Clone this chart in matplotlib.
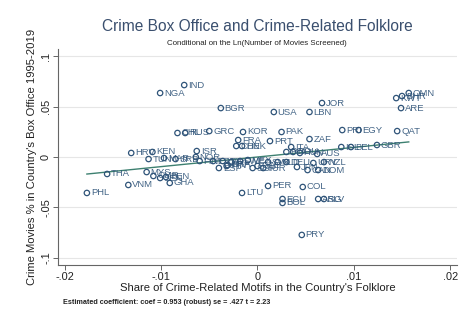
import matplotlib
matplotlib.use("Agg")
import matplotlib.pyplot as plt
import numpy as np

plt.rcParams['font.family'] = ['Liberation Sans', 'DejaVu Sans']

# Residualised share of crime motifs (x) and crime box-office share (y), by country
countries = ["IND", "NGA", "BGR", "USA", "JOR", "LBN", "KWT", "BHR", "OMN", "ARE",
             "PRI", "EGY", "QAT", "GBR", "ISL", "BEL", "PHL", "THA", "VNM", "GHA",
             "MYS", "CMR", "SEN", "BEN", "HRV", "KEN", "TUN", "MAR", "SRB", "CHL",
             "RUS", "GRC", "KOR", "PAK", "ISR", "NOR", "FIN", "FRA", "DNK", "CHE",
             "PRT", "ZAF", "ITA", "POL", "ROU", "HUN", "AUS", "SVK", "NLD", "DEU",
             "URY", "NZL", "JPN", "CAN", "DOM", "CZE", "SGP", "TUR", "ESP", "BRA",
             "PER", "COL", "LTU", "ECU", "BOL", "PRY", "ARG", "SLV", "EST", "LVA",
             "IRL", "SWE", "MEX", "IRN"]
motif_share = [-0.0076, -0.0101, -0.0038, 0.0017, 0.0067, 0.0054, 0.0144, 0.0150, 0.0157, 0.0149,
               0.0088, 0.0105, 0.0145, 0.0124, 0.0087, 0.0097, -0.0177, -0.0156, -0.0134, -0.0091,
               -0.0115, -0.0108, -0.0101, -0.0095, -0.0131, -0.0109, -0.0113, -0.0097, -0.0085, -0.0083,
               -0.0075, -0.0050, -0.0015, 0.0025, -0.0063, -0.0064, -0.0060, -0.0020, -0.0016, -0.0022,
               0.0013, 0.0054, 0.0035, 0.0030, 0.0037, 0.0044, 0.0062, 0.0011, 0.0021, 0.0030,
               0.0058, 0.0069, 0.0041, 0.0052, 0.0063, 0.0000, -0.0005, 0.0006, -0.0040, -0.0031,
               0.0011, 0.0047, -0.0016, 0.0026, 0.0026, 0.0046, 0.0063, 0.0069, -0.0046, -0.0036,
               -0.0027, -0.0018, -0.0010, -0.0032]
crime_box = [0.0713, 0.0634, 0.0485, 0.0446, 0.0535, 0.0446, 0.0584, 0.0604, 0.0634, 0.0485,
             0.0267, 0.0267, 0.0257, 0.0119, 0.0099, 0.0099, -0.0356, -0.0168, -0.0277, -0.0257,
             -0.0149, -0.0188, -0.0208, -0.0198, 0.0040, 0.0050, -0.0020, -0.0010, -0.0020, 0.0238,
             0.0238, 0.0257, 0.0248, 0.0248, 0.0059, 0.0000, -0.0040, 0.0168, 0.0109, 0.0109,
             0.0158, 0.0178, 0.0099, 0.0050, 0.0050, 0.0040, 0.0030, -0.0050, -0.0050, -0.0050,
             -0.0059, -0.0050, -0.0099, -0.0129, -0.0129, -0.0089, -0.0109, -0.0109, -0.0109, -0.0079,
             -0.0287, -0.0297, -0.0356, -0.0416, -0.0455, -0.0772, -0.0416, -0.0416, -0.0040, -0.0040,
             -0.0050, -0.0040, -0.0030, -0.0089]

coef = 0.953
x_ticks = [-0.02, -0.01, 0.0, 0.01, 0.02]
x_tick_labels = ["-.02", "-.01", "0", ".01", ".02"]
y_ticks = [-0.1, -0.05, 0.0, 0.05, 0.1]
y_tick_labels = ["-.1", "-.05", "0", ".05", ".1"]

navy = "#2f5479"
fig = plt.figure(figsize=(4.71, 3.29), dpi=100)
fig.patch.set_facecolor("white")
ax = fig.add_axes([0.1231, 0.1945, 0.847, 0.6565])

ax.scatter(motif_share, crime_box, s=15, facecolors="none", edgecolors=navy,
           linewidths=0.9, zorder=3)
for name, xv, yv in zip(countries, motif_share, crime_box):
    ax.annotate(name, (xv, yv), xytext=(2.8, 0), textcoords="offset points",
                fontsize=6.8, color=navy, va="center", ha="left", alpha=0.9, zorder=4)

# Fitted line with the estimated slope
xs = np.array([min(motif_share), max(motif_share)])
ax.plot(xs, coef * xs, color="#3d8070", lw=1.0, zorder=2)

ax.set_xlim(-0.0207, 0.0207)
ax.set_ylim(-0.107, 0.107)
ax.set_xticks(x_ticks)
ax.set_xticklabels(x_tick_labels, fontsize=7.9)
ax.set_yticks(y_ticks)
ax.set_yticklabels(y_tick_labels, fontsize=7.9, rotation=90, va="center")
ax.yaxis.grid(True, color="#e6e6e6", lw=0.8)
ax.set_axisbelow(True)
for s in ["top", "right"]:
    ax.spines[s].set_visible(False)
for s in ["left", "bottom"]:
    ax.spines[s].set_color("#666666")
    ax.spines[s].set_linewidth(0.8)
ax.tick_params(axis="both", direction="out", length=3.5, width=0.7, color="#666666",
               labelcolor="#222222", pad=1.5)

ax.set_xlabel("Share of Crime-Related Motifs in the Country's Folklore", fontsize=8.1,
              color="#222222", labelpad=0.5)
ax.set_ylabel("Crime Movies % in Country's Box Office 1995-2019", fontsize=8.1,
              color="#222222", labelpad=3)

fig.text(0.546, 0.918, "Crime Box Office and Crime-Related Folklore", ha="center",
         va="center", fontsize=11.2, color="#3a4f6e")
fig.text(0.546, 0.869, "Conditional on the Ln(Number of Movies Screened)", ha="center",
         va="center", fontsize=5.7, color="#222222")
fig.text(0.134, 0.082, "Estimated coefficient: coef = 0.953 (robust) se = .427 t = 2.23",
         ha="left", va="center", fontsize=5.2, fontweight="bold", color="#222222")

fig.savefig("out.png", dpi=100, facecolor="white")
